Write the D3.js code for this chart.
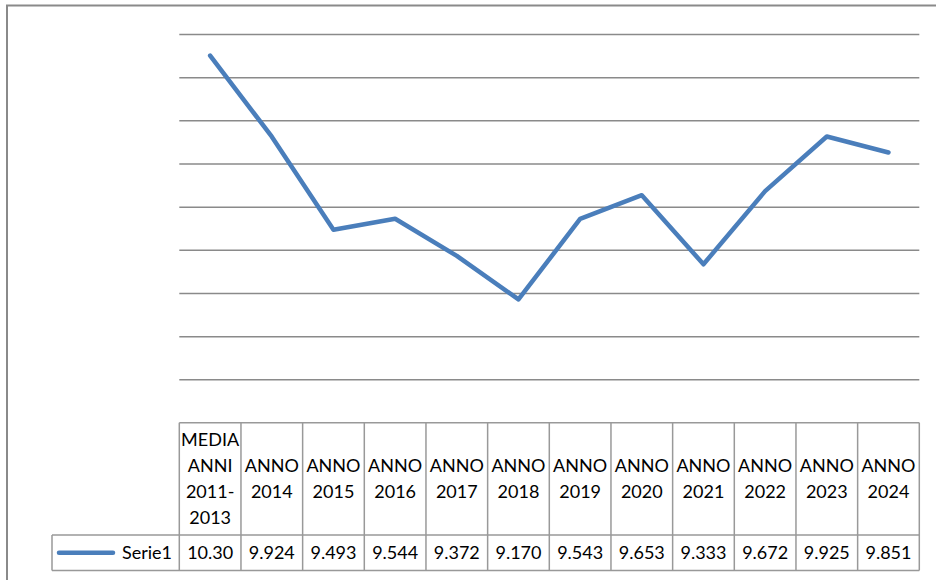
<!DOCTYPE html>
<html>
<head>
<meta charset="utf-8">
<script src="https://cdn.jsdelivr.net/npm/d3@7"></script>
<style>
  body { margin: 0; background: #fff; }
  svg { display: block; font-family: Lato, "Liberation Sans", sans-serif; }
  .grid line { stroke: #8a8a8a; stroke-width: 1.5; }
  .cell { stroke: #999; stroke-width: 1.5; }
  .serie { fill: none; stroke: #4a7ebb; stroke-width: 4.5; stroke-linejoin: round; stroke-linecap: round; }
  text { fill: #000; font-size: 18px; }
</style>
</head>
<body>
<svg width="936" height="580"></svg>
<script>
// categories (header lines split by \n), series values
const categories = [
  "MEDIA\nANNI\n2011-\n2013",
  "ANNO\n2014", "ANNO\n2015", "ANNO\n2016", "ANNO\n2017", "ANNO\n2018",
  "ANNO\n2019", "ANNO\n2020", "ANNO\n2021", "ANNO\n2022", "ANNO\n2023", "ANNO\n2024"
];
const serie1 = [10.30, 9.924, 9.493, 9.544, 9.372, 9.170, 9.543, 9.653, 9.333, 9.672, 9.925, 9.851];
const seriesName = "Serie1";
const yTicks = [8.8, 9.0, 9.2, 9.4, 9.6, 9.8, 10.0, 10.2, 10.4];

const svg = d3.select("svg");

// outer chart frame (only left + top visible)
svg.append("rect")
  .attr("x", 7).attr("y", 5.5)
  .attr("width", 960).attr("height", 600)
  .attr("fill", "none")
  .attr("stroke", "#8a8a8a")
  .attr("stroke-width", 2);

const xScale = d3.scaleBand().domain(categories).range([179.3, 919.3]).padding(0);
const yScale = d3.scaleLinear().domain([8.8, 10.4]).range([379.3, 34]);

// gridlines, no labels
const grid = svg.append("g")
  .attr("class", "grid")
  .attr("transform", "translate(179.3,0)")
  .call(d3.axisLeft(yScale).tickValues(yTicks).tickSize(-740).tickFormat(""));
grid.select(".domain").remove();

// line
const line = d3.line()
  .x((d, i) => xScale(categories[i]) + xScale.bandwidth() / 2)
  .y(d => yScale(d));

svg.append("path")
  .datum(serie1)
  .attr("class", "serie")
  .attr("d", line);

// data table
const headTop = 422.7, rowTop = 535, rowBottom = 570.5, legendLeft = 52;
const x0 = xScale.range()[0], x1 = xScale.range()[1];
const table = svg.append("g");

// horizontal lines
table.append("line").attr("class", "cell")
  .attr("x1", x0).attr("x2", x1).attr("y1", headTop).attr("y2", headTop);
table.append("line").attr("class", "cell")
  .attr("x1", legendLeft).attr("x2", x1).attr("y1", rowTop).attr("y2", rowTop);
table.append("line").attr("class", "cell")
  .attr("x1", legendLeft).attr("x2", x1).attr("y1", rowBottom).attr("y2", rowBottom);
table.append("line").attr("class", "cell")
  .attr("x1", legendLeft).attr("x2", legendLeft).attr("y1", rowTop).attr("y2", rowBottom);

// vertical lines at band edges
table.selectAll("line.vert")
  .data(categories.concat(["__end"]))
  .enter()
  .append("line")
  .attr("class", "cell vert")
  .attr("x1", (d, i) => i < categories.length ? xScale(d) : x1)
  .attr("x2", (d, i) => i < categories.length ? xScale(d) : x1)
  .attr("y1", headTop)
  .attr("y2", rowBottom);

// header texts
const lineH = 25.8;
const headMid = (headTop + rowTop) / 2;
const heads = table.selectAll("text.head")
  .data(categories)
  .enter()
  .append("text")
  .attr("class", "head")
  .attr("text-anchor", "middle")
  .attr("x", d => xScale(d) + xScale.bandwidth() / 2);

heads.each(function (d) {
  const lines = d.split("\n");
  const start = headMid - (lines.length - 1) * lineH / 2;
  d3.select(this).selectAll("tspan")
    .data(lines)
    .enter()
    .append("tspan")
    .attr("x", xScale(d) + xScale.bandwidth() / 2)
    .attr("y", (l, j) => start + j * lineH)
    .attr("dy", "0.35em")
    .text(l => l);
});

// values row
const fmt = d3.format(".4r");
const rowMid = (rowTop + rowBottom) / 2;
table.selectAll("text.val")
  .data(serie1)
  .enter()
  .append("text")
  .attr("class", "val")
  .attr("text-anchor", "middle")
  .attr("x", (d, i) => xScale(categories[i]) + xScale.bandwidth() / 2)
  .attr("y", rowMid)
  .attr("dy", "0.35em")
  .text(d => fmt(d));

// legend key in table
table.append("line")
  .attr("class", "serie")
  .attr("x1", 59).attr("x2", 113)
  .attr("y1", rowMid).attr("y2", rowMid);
table.append("text")
  .attr("x", 172)
  .attr("y", rowMid)
  .attr("dy", "0.35em")
  .attr("text-anchor", "end")
  .text(seriesName);
</script>
</body>
</html>
